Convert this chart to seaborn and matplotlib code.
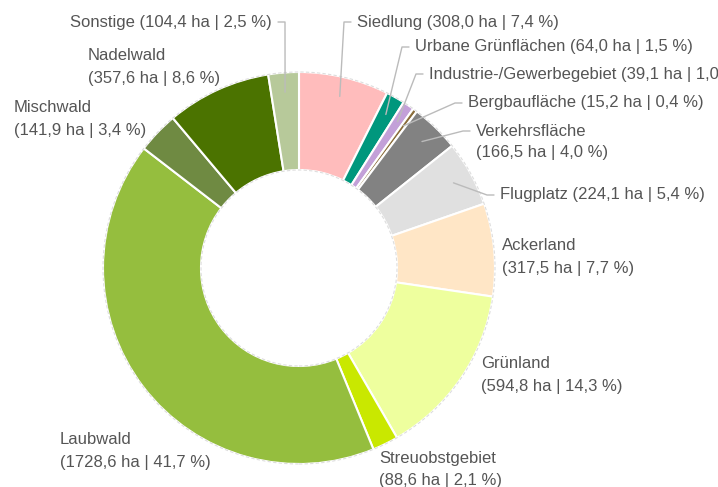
import numpy as np
import matplotlib.pyplot as plt
import seaborn as sns

sns.set_theme(style="white")
plt.rcParams['font.family'] = ['Liberation Sans', 'DejaVu Sans']

# Flächennutzung (clockwise from the top)
categories = ['Siedlung', 'Urbane Grünflächen', 'Industrie-/Gewerbegebiet', 'Bergbaufläche',
              'Verkehrsfläche', 'Flugplatz', 'Ackerland', 'Grünland', 'Streuobstgebiet',
              'Laubwald', 'Mischwald', 'Nadelwald', 'Sonstige']
hectares = [308.0, 64.0, 39.1, 15.2, 166.5, 224.1, 317.5, 594.8, 88.6, 1728.6, 141.9, 357.6, 104.4]
percents = ['7,4', '1,5', '1,0', '0,4', '4,0', '5,4', '7,7', '14,3', '2,1', '41,7', '3,4', '8,6', '2,5']
colors = ['#FFBCBC', '#00977D', '#C3A0D8', '#8A6D3B', '#828282', '#E0E0E0', '#FFE6C6',
          '#EEFF9E', '#C9E800', '#95BE3E', '#6F8A42', '#4B7300', '#B7C99A']

# label layout in pixels: (x, y of first line, align, two lines?, leader line?)
label_pos = [(357, 22, 'left', False, True), (415, 47, 'left', False, True),
             (429, 74, 'left', False, True), (468, 103, 'left', False, True),
             (476, 131, 'left', True, True), (500, 195, 'left', False, True),
             (502, 246, 'left', True, False), (481, 364, 'left', True, False),
             (379, 459, 'left', True, False), (60, 440, 'left', True, False),
             (14, 108, 'left', True, False), (88, 56, 'left', True, False),
             (272, 22, 'right', False, True)]

W, H = 718, 487
cx, cy, R = 299, 268, 196

fig = plt.figure(figsize=(W / 100, H / 100), dpi=100)
ax = fig.add_axes([0, 0, 1, 1])

wedges, _ = ax.pie(hectares, colors=colors, startangle=90, counterclock=False, radius=1,
                   wedgeprops=dict(width=0.5, edgecolor='white', linewidth=1.5))
ax.add_patch(plt.Circle((0, 0), 1.0, fill=False, ec='#DDDDDD', lw=0.8, ls=(0, (3, 2))))
ax.add_patch(plt.Circle((0, 0), 0.5, fill=False, ec='#DDDDDD', lw=0.8, ls=(0, (3, 2))))

ax.set_aspect('auto')
ax.set_xlim(-cx / R, (W - cx) / R)
ax.set_ylim(-(H - cy) / R, cy / R)
ax.axis('off')


def px(x, y):
    return (x - cx) / R, (cy - y) / R


text_color = '#555555'
line_color = '#BBBBBB'
fs = 12
for w, name, ha_val, pct, (lx, ly, align, two, lead) in zip(
        wedges, categories, hectares, percents, label_pos):
    value = f"({ha_val:.1f} ha | {pct} %)".replace('.', ',', 1)
    tx, ty = px(lx, ly)
    if two:
        ax.text(tx, ty, name, ha=align, va='center', fontsize=fs, color=text_color)
        ax.text(tx, px(lx, ly + 22)[1], value, ha=align, va='center', fontsize=fs,
                color=text_color)
    else:
        ax.text(tx, ty, f"{name} {value}", ha=align, va='center', fontsize=fs,
                color=text_color)
    if lead:
        mid = np.deg2rad((w.theta1 + w.theta2) / 2)
        sx, sy = 0.9 * np.cos(mid), 0.9 * np.sin(mid)
        sgn = 1 if align == 'left' else -1
        ex, ey = px(lx - sgn * 13, ly)
        hx, _ = px(lx - sgn * 6, ly)
        ax.plot([sx, ex, hx], [sy, ey, ey], color=line_color, lw=1)

fig.savefig('out.png', dpi=100)
